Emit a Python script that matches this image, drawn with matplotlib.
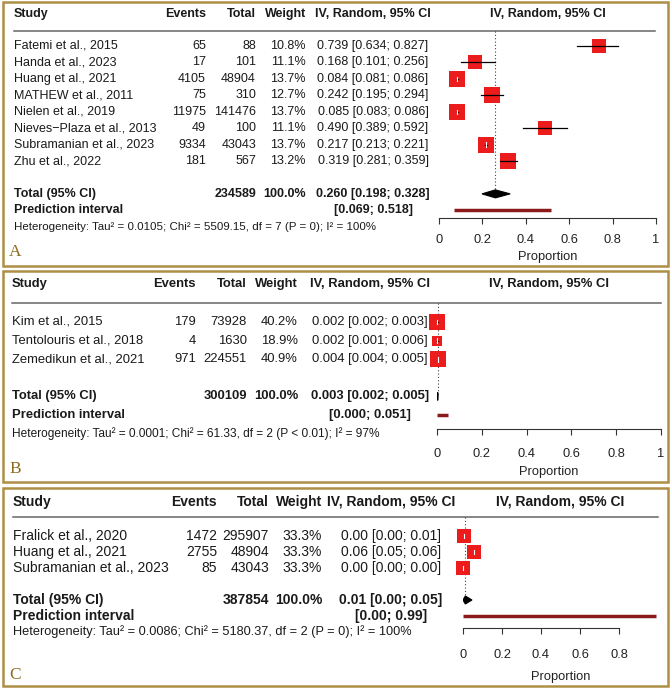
import numpy as np
import matplotlib
matplotlib.use('Agg')
import matplotlib.pyplot as plt
from matplotlib.patches import Polygon, Rectangle
from matplotlib.lines import Line2D
from matplotlib.transforms import blended_transform_factory as blend

plt.rcParams['font.family'] = ['Liberation Sans', 'DejaVu Sans']

# ---- panel A data
studies_a = ['Fatemi et al., 2015', 'Handa et al., 2023', 'Huang et al., 2021',
             'MATHEW et al., 2011', 'Nielen et al., 2019', 'Nieves\u2212Plaza et al., 2013',
             'Subramanian et al., 2023', 'Zhu et al., 2022']
events_a = [65, 17, 4105, 75, 11975, 49, 9334, 181]
totals_a = [88, 101, 48904, 310, 141476, 100, 43043, 567]
weights_a = [10.8, 11.1, 13.7, 12.7, 13.7, 11.1, 13.7, 13.2]
est_a = [0.739, 0.168, 0.084, 0.242, 0.085, 0.490, 0.217, 0.319]
lo_a = [0.634, 0.101, 0.081, 0.195, 0.083, 0.389, 0.213, 0.281]
hi_a = [0.827, 0.256, 0.086, 0.294, 0.086, 0.592, 0.221, 0.359]
pooled_a = [0.260, 0.198, 0.328]
pi_a = [0.069, 0.518]
het_a = 'Heterogeneity: Tau\u00b2 = 0.0105; Chi\u00b2 = 5509.15, df = 7 (P = 0); I\u00b2 = 100%'

# ---- panel B data
studies_b = ['Kim et al., 2015', 'Tentolouris et al., 2018', 'Zemedikun et al., 2021']
events_b = [179, 4, 971]
totals_b = [73928, 1630, 224551]
weights_b = [40.2, 18.9, 40.9]
est_b = [0.002, 0.002, 0.004]
lo_b = [0.002, 0.001, 0.004]
hi_b = [0.003, 0.006, 0.005]
pooled_b = [0.003, 0.002, 0.005]
pi_b = [0.000, 0.051]
het_b = 'Heterogeneity: Tau\u00b2 = 0.0001; Chi\u00b2 = 61.33, df = 2 (P < 0.01); I\u00b2 = 97%'

# ---- panel C data
studies_c = ['Fralick et al., 2020', 'Huang et al., 2021', 'Subramanian et al., 2023']
events_c = [1472, 2755, 85]
totals_c = [295907, 48904, 43043]
weights_c = [33.3, 33.3, 33.3]
est_c = [0.0049, 0.0563, 0.0020]
lo_c = [0.0047, 0.0543, 0.0016]
hi_c = [0.0052, 0.0584, 0.0024]
pooled_c = [0.012, 0.000, 0.046]
pi_c = [0.000, 0.99]
het_c = 'Heterogeneity: Tau\u00b2 = 0.0086; Chi\u00b2 = 5180.37, df = 2 (P = 0); I\u00b2 = 100%'

W, H = 672, 688
fig = plt.figure(figsize=(W / 100, H / 100), dpi=100)


def fx(px):
    return px / W


def fy(py):
    return 1 - py / H


def panel(d, L):
    r0, rh = L['row0'], L['row_h']
    row = lambda py: (py - r0) / rh
    line_r, axis_r = row(L['line']), row(L['axis'])
    ax = fig.add_axes([fx(L['x0']), fy(L['axis']), fx(L['x1']) - fx(L['x0']),
                       fy(L['line']) - fy(L['axis'])])
    ax.set_xlim(0, 1)
    ax.set_ylim(axis_r, line_r)
    ax.patch.set_alpha(0)
    for s in ['top', 'left', 'right']:
        ax.spines[s].set_visible(False)
    ax.spines['bottom'].set_bounds(L['ticks'][0], L['ticks'][-1])
    ax.spines['bottom'].set_color('#333333')
    ax.set_yticks([])
    ax.set_xticks(L['ticks'], [f'{t:g}' for t in L['ticks']])
    ax.tick_params(axis='x', direction='out', length=4.5, width=0.8, color='#333333',
                   pad=L['tpad'], labelsize=9.3, labelcolor='#222222')
    ax.set_xlabel('Proportion', fontsize=9.3, labelpad=L['lpad'], color='#222222')

    tr = blend(fig.transFigure, ax.transData)
    ta = blend(ax.transAxes, ax.transData)
    fs, dec = L['fs'], L['dec']
    kw = dict(transform=tr, va='center', fontsize=fs, color='#1a1a1a')

    # header
    hy = row(L['header'])
    for txt, x, ha in [('Study', L['c_study'], 'left'), ('Events', L['c_events'], 'right'),
                       ('Total', L['c_total'], 'right'), ('Weight', L['c_weight'], 'right'),
                       ('IV, Random, 95% CI', L['c_ci'], 'center')]:
        ax.text(fx(x), hy, txt, ha=ha, fontweight='bold', **kw)
    ax.text(0.5, hy, 'IV, Random, 95% CI', transform=ta, ha='center', va='center',
            fontsize=fs, fontweight='bold', color='#1a1a1a')
    ax.add_line(Line2D([fx(L['line_l']), fx(L['line_r'])], [line_r, line_r], transform=tr,
                       color='#666666', lw=1.1, clip_on=False))

    # study rows
    ppu = L['x1'] - L['x0']
    wmax = max(d['weights'])
    for i, name in enumerate(d['studies']):
        e, lo, hi, w = d['est'][i], d['lo'][i], d['hi'][i], d['weights'][i]
        ax.text(fx(L['c_study']), i, name, ha='left', **kw)
        ax.text(fx(L['c_events']), i, str(d['events'][i]), ha='right', **kw)
        ax.text(fx(L['c_total']), i, str(d['totals'][i]), ha='right', **kw)
        ax.text(fx(L['c_weight']), i, f'{w:.1f}%', ha='right', **kw)
        ax.text(fx(L['c_ci']), i, f'{e:.{dec}f} [{lo:.{dec}f}; {hi:.{dec}f}]', ha='center', **kw)
        bpx = L['box'] * np.sqrt(w / wmax)
        ax.scatter([e], [i], marker='s', s=(bpx * 0.72) ** 2, color='#ec1c1c', lw=0,
                   zorder=3, clip_on=False)
        ax.plot([lo, hi], [i, i], color='black', lw=0.9, zorder=4, clip_on=False)
        if (hi - lo) * ppu < bpx:
            ax.plot([e, e], [i - 0.13, i + 0.13], color='white', lw=0.8, zorder=5,
                    clip_on=False)

    # totals
    n = len(d['studies'])
    t_r = n + 1
    pe, plo, phi = d['pooled']
    ax.text(fx(L['c_study']), t_r, 'Total (95% CI)', ha='left', fontweight='bold', **kw)
    ax.text(fx(L['c_total']), t_r, str(sum(d['totals'])), ha='right', fontweight='bold', **kw)
    ax.text(fx(L['c_weight']), t_r, '100.0%', ha='right', fontweight='bold', **kw)
    ax.text(fx(L['c_ci']), t_r, f'{pe:.{dec}f} [{plo:.{dec}f}; {phi:.{dec}f}]',
            ha='center', fontweight='bold', **kw)
    dh = 4.0 / rh
    ax.add_patch(Polygon([(plo, t_r), (pe, t_r - dh), (phi, t_r), (pe, t_r + dh)],
                         closed=True, fc='black', ec='black', lw=0.8, zorder=4))
    ax.plot([pe, pe], [line_r, t_r], color='#444444', lw=0.8, ls=(0, (1, 2)), zorder=2)

    p_r = n + 2
    ax.text(fx(L['c_study']), p_r, 'Prediction interval', ha='left', fontweight='bold', **kw)
    ax.text(fx(L['c_ci']), p_r, f'[{d["pi"][0]:.{dec}f}; {d["pi"][1]:.{dec}f}]',
            ha='center', fontweight='bold', **kw)
    ax.plot(d['pi'], [p_r, p_r], color='#8b1a1a', lw=2.5, solid_capstyle='butt', zorder=3)

    ax.text(fx(L['c_study']), n + 3, d['het'], ha='left', transform=tr, va='center',
            fontsize=L['fs_het'], color='#1a1a1a')

    # border and panel letter
    fig.add_artist(Rectangle((fx(3), fy(L['bottom'])), fx(668) - fx(3),
                             fy(L['top']) - fy(L['bottom']), transform=fig.transFigure,
                             fill=False, ec='#ad8f45', lw=1.8))
    fig.text(fx(9), fy(L['lab_y']), L['label'], family='Liberation Serif', fontsize=12.5,
             color='#8c6d1f', va='center', ha='left')


data_a = dict(studies=studies_a, events=events_a, totals=totals_a, weights=weights_a,
              est=est_a, lo=lo_a, hi=hi_a, pooled=pooled_a, pi=pi_a, het=het_a)
data_b = dict(studies=studies_b, events=events_b, totals=totals_b, weights=weights_b,
              est=est_b, lo=lo_b, hi=hi_b, pooled=pooled_b, pi=pi_b, het=het_b)
data_c = dict(studies=studies_c, events=events_c, totals=totals_c, weights=weights_c,
              est=est_c, lo=lo_c, hi=hi_c, pooled=pooled_c, pi=pi_c, het=het_c)

lay_a = dict(top=2, bottom=266, header=14, line=31, row0=46, row_h=16.43, axis=218,
             x0=439, x1=656, ticks=[0, 0.2, 0.4, 0.6, 0.8, 1], tpad=7.2, lpad=3.7,
             c_study=14, c_events=206, c_total=256, c_weight=306, c_ci=373,
             line_l=14, line_r=655, fs=9, fs_het=8.25, dec=3, box=15.7,
             label='A', lab_y=252)
lay_b = dict(top=271, bottom=482, header=284, line=303, row0=322, row_h=18.6, axis=429,
             x0=437, x1=661, ticks=[0, 0.2, 0.4, 0.6, 0.8, 1], tpad=8.9, lpad=4.7,
             c_study=12, c_events=196, c_total=247, c_weight=298, c_ci=370,
             line_l=12, line_r=661, fs=9.4, fs_het=8.6, dec=3, box=16,
             label='B', lab_y=469)
lay_c = dict(top=488, bottom=686, header=502, line=517, row0=536, row_h=16, axis=628,
             x0=463, x1=658, ticks=[0, 0.2, 0.4, 0.6, 0.8], tpad=10.9, lpad=6.7,
             c_study=13, c_events=217, c_total=269, c_weight=322, c_ci=391,
             line_l=13, line_r=658, fs=10, fs_het=9.2, dec=2, box=14,
             label='C', lab_y=675)

panel(data_a, lay_a)
panel(data_b, lay_b)
panel(data_c, lay_c)

fig.savefig('out.png', dpi=100)
